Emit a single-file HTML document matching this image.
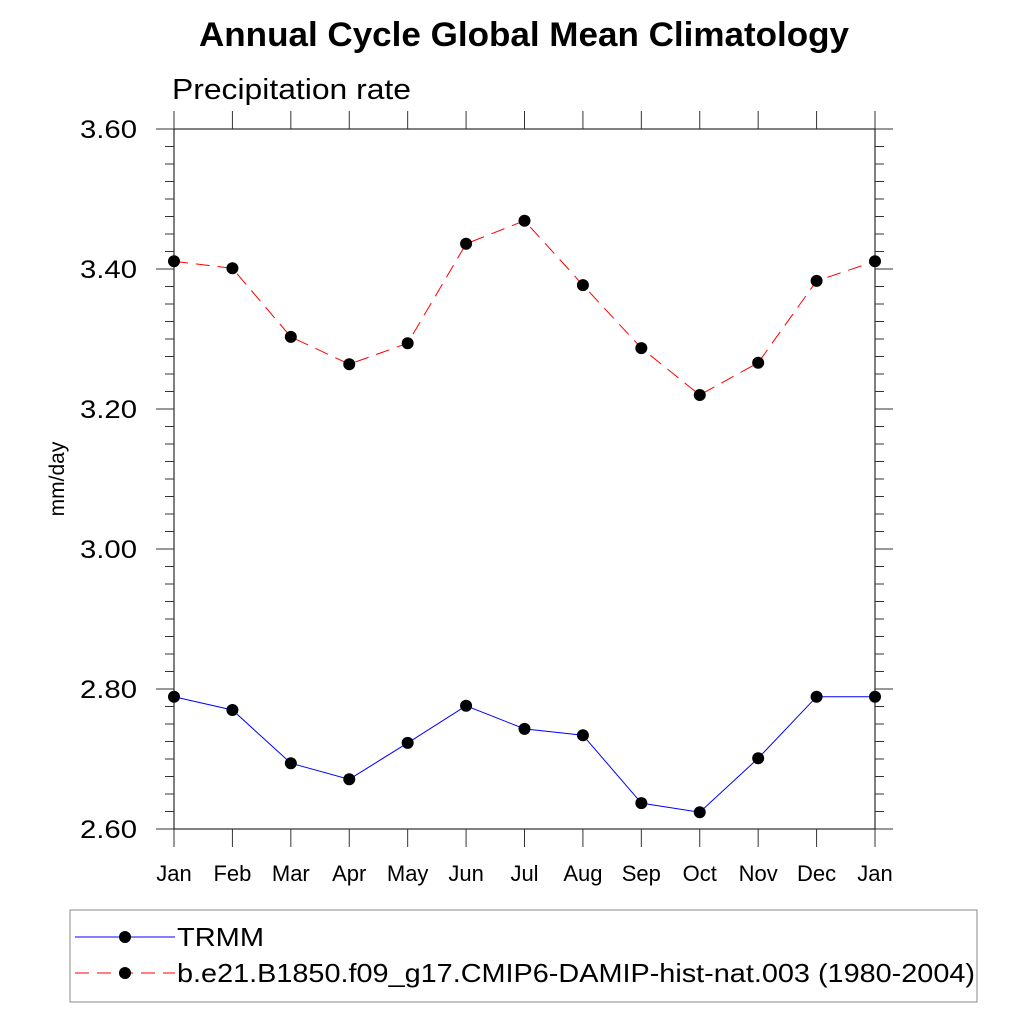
<!DOCTYPE html>
<html><head><meta charset="utf-8"><style>
body{margin:0;background:#fff;}
svg text{font-family:"Liberation Sans",Arial,sans-serif;}
</style></head><body>
<svg id="chart" width="1024" height="1024" viewBox="0 0 1024 1024" xmlns="http://www.w3.org/2000/svg">
<text x="199" y="46" textLength="650" lengthAdjust="spacingAndGlyphs" font-size="34" font-weight="bold">Annual Cycle Global Mean Climatology</text>
<text x="172" y="99" textLength="239" lengthAdjust="spacingAndGlyphs" font-size="29">Precipitation rate</text>
<text transform="translate(64,479) rotate(-90)" text-anchor="middle" font-size="21">mm/day</text>
<g id="axes"></g>
<g id="series"></g>
<rect x="70" y="910" width="907" height="92" fill="none" stroke="#888" stroke-width="1"/>
<g>
<line x1="75" y1="937" x2="175" y2="937" stroke="#0000ff" stroke-width="1"/>
<circle cx="125" cy="937" r="6" fill="#000"/>
<text x="177" y="946" font-size="26" textLength="87" lengthAdjust="spacingAndGlyphs">TRMM</text>
</g>
<g>
<line x1="75" y1="973" x2="175" y2="973" stroke="#ff0000" stroke-width="1" stroke-dasharray="14,8"/>
<circle cx="125" cy="973" r="6" fill="#000"/>
<text x="177" y="982" font-size="26" textLength="798" lengthAdjust="spacingAndGlyphs">b.e21.B1850.f09_g17.CMIP6-DAMIP-hist-nat.003 (1980-2004)</text>
</g>
</svg>
<script>
const months = ["Jan","Feb","Mar","Apr","May","Jun","Jul","Aug","Sep","Oct","Nov","Dec","Jan"];
const trmm = [2.789,2.770,2.694,2.671,2.723,2.776,2.743,2.734,2.637,2.624,2.701,2.789,2.789];
const model = [3.411,3.401,3.303,3.264,3.294,3.436,3.469,3.377,3.287,3.220,3.266,3.383,3.411];
const yTicks = [2.6,2.8,3.0,3.2,3.4,3.6];
const yTickLabels = ["2.60","2.80","3.00","3.20","3.40","3.60"];
const NS="http://www.w3.org/2000/svg";
const L=174,R=875,T=129,B=829;
const yMin=2.6,yMax=3.6;
function ys(v){return B-(v-yMin)*(B-T)/(yMax-yMin);}
function xs(i){return L+i*(R-L)/(months.length-1);}
function mk(tag,attrs,parent){const e=document.createElementNS(NS,tag);for(const k in attrs)e.setAttribute(k,attrs[k]);parent.appendChild(e);return e;}
const axes=document.getElementById('axes');
const frame=mk('rect',{x:L,y:T,width:R-L,height:B-T,fill:'none',stroke:'#000','stroke-width':1},axes);


for(let k=0;k<=40;k++){
  const v=yMin+k*0.025;
  const y=ys(v);const major=(k%8===0);
  const len=major?18:9;
  mk('line',{x1:L,y1:y,x2:L-len,y2:y,stroke:'#333'},axes);
  mk('line',{x1:R,y1:y,x2:R+len,y2:y,stroke:'#333'},axes);
}
yTicks.forEach((t,i)=>{
  const tx=mk('text',{x:137,y:ys(t)+9,'text-anchor':'end','font-size':25,textLength:57,lengthAdjust:'spacingAndGlyphs'},axes);
  tx.textContent=yTickLabels[i];
  
  
});
months.forEach((m,i)=>{
  const x=xs(i);
  mk('line',{x1:x,y1:B,x2:x,y2:B+18,stroke:'#333'},axes);
  mk('line',{x1:x,y1:T,x2:x,y2:T-18,stroke:'#333'},axes);
  const tx=mk('text',{x:x,y:881,'text-anchor':'middle','font-size':22},axes);
  tx.textContent=m;
  
  
});
const series=document.getElementById('series');
function draw(vals,color,dash,name){
  const g=mk('g',{},series);
  
  
  const pts=vals.map((v,i)=>xs(i)+','+ys(v)).join(' ');
  const a={points:pts,fill:'none',stroke:color,'stroke-width':1};
  if(dash)a['stroke-dasharray']=dash;
  mk('polyline',a,g);
  vals.forEach((v,i)=>{
    const c=mk('circle',{cx:xs(i),cy:ys(v),r:6,fill:'#000'},g);
    
    
  });
}
draw(trmm,'#0000ff',null,'trmm-series');
draw(model,'#ff0000','14,8','model-series');
</script>
</body></html>
